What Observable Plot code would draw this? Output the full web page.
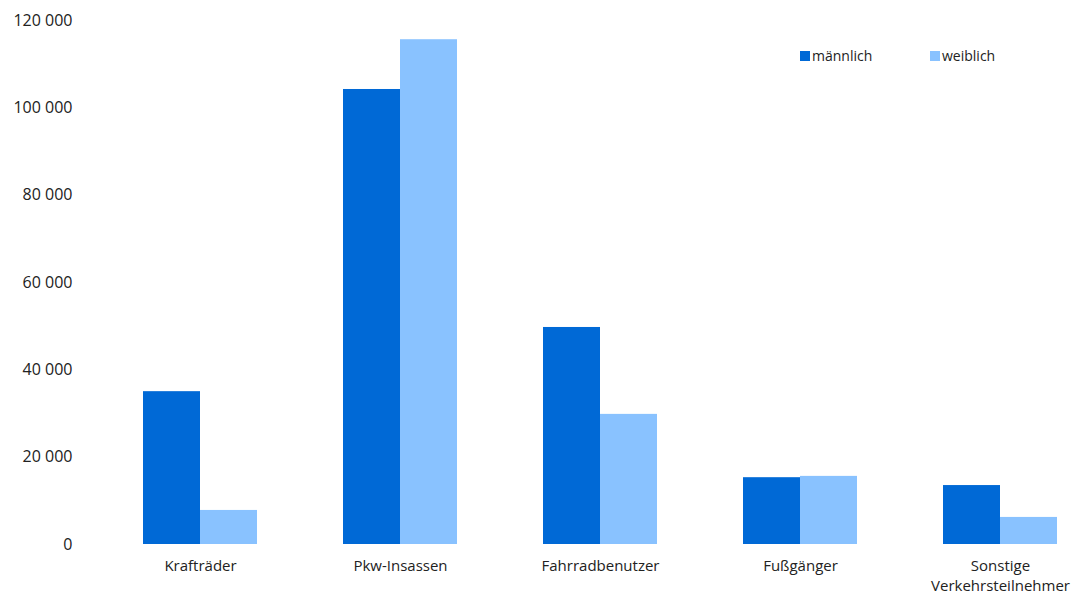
<!DOCTYPE html>
<html>
<head>
<meta charset="utf-8">
<script src="https://cdn.jsdelivr.net/npm/d3@7"></script>
<script src="https://cdn.jsdelivr.net/npm/@observablehq/plot@0.6"></script>
<style>
  html, body { margin: 0; padding: 0; background: #fff; }
  #wrap { position: relative; width: 1073px; height: 594px; font-family: "Open Sans", sans-serif; }
  #legend { position: absolute; left: 800px; top: 46px; display: flex; font-size: 14px; color: #222; }
  .item { display: flex; align-items: center; margin-right: 0; }
  .sw { width: 10px; height: 10px; margin-right: 2px; }
</style>
</head>
<body>
<div id="wrap"><div id="legend"></div></div>
<script>
const categories = ["Krafträder", "Pkw-Insassen", "Fahrradbenutzer", "Fußgänger", "Sonstige Verkehrsteilnehmer"];
const maennlich = [35000, 104200, 49700, 15300, 13500];
const weiblich = [7800, 115600, 29800, 15600, 6200];
const series = ["männlich", "weiblich"];
const colors = ["#0069d6", "#89c2ff"];
const yTicks = [0, 20000, 40000, 60000, 80000, 100000, 120000];
const xLabels = {"Sonstige Verkehrsteilnehmer": "Sonstige\nVerkehrsteilnehmer"};

const data = categories.flatMap((c, i) => [
  {cat: c, sex: series[0], value: maennlich[i]},
  {cat: c, sex: series[1], value: weiblich[i]}
]);

const fmt = d => d3.format(",")(d).replace(/,/g, " ");

const chart = Plot.plot({
  width: 1073,
  height: 594,
  marginLeft: 100,
  marginRight: -27,
  marginTop: 20,
  marginBottom: 50,
  style: {fontFamily: "'Open Sans', sans-serif", color: "#222", overflow: "visible"},
  fx: {domain: categories, paddingInner: 0.43, paddingOuter: 0.215, label: null},
  x: {domain: series, padding: 0, axis: null},
  y: {domain: [0, 120000], label: null},
  color: {domain: series, range: colors},
  marks: [
    Plot.barY(data, {fx: "cat", x: "sex", y: "value", fill: "sex"}),
    Plot.axisY({ticks: yTicks, tickSize: 0, tickPadding: 71, tickFormat: fmt, fontSize: 16, label: null}),
    Plot.axisFx({anchor: "bottom", tickSize: 0, tickPadding: 13, fontSize: 15, label: null, lineHeight: 1.3,
      lineAnchor: "top", tickFormat: d => xLabels[d] ?? d})
  ]
});
const wrap = document.getElementById("wrap");
wrap.insertBefore(chart, wrap.firstChild);

const legend = document.getElementById("legend");
series.forEach((s, i) => {
  const it = document.createElement("div");
  it.className = "item";
  it.style.width = i === 0 ? "130px" : "auto";
  const sw = document.createElement("span");
  sw.className = "sw";
  sw.style.background = colors[i];
  const t = document.createElement("span");
  t.textContent = s;
  it.appendChild(sw); it.appendChild(t);
  legend.appendChild(it);
});
</script>
</body>
</html>
